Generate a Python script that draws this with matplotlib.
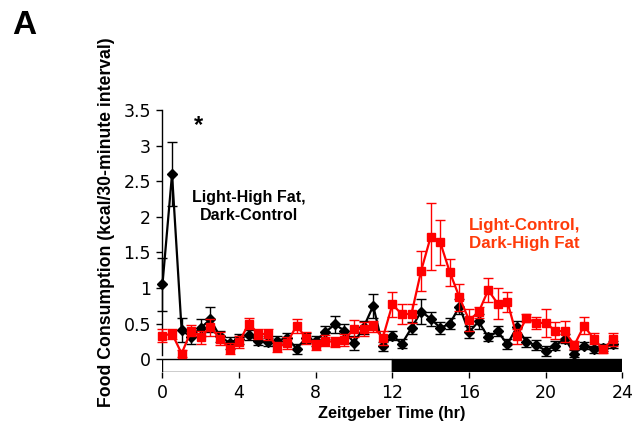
import matplotlib.pyplot as plt
from matplotlib.patches import Rectangle
import numpy as np

plt.rcParams['font.family'] = ['Liberation Sans', 'DejaVu Sans']

# Zeitgeber time, 30-minute bins
zt = np.arange(48) * 0.5

# Light-High Fat, Dark-Control (black diamonds)
lhf_mean = [1.05, 2.60, 0.41, 0.31, 0.44, 0.56, 0.32, 0.23, 0.29, 0.34,
            0.26, 0.24, 0.26, 0.30, 0.15, 0.30, 0.26, 0.38, 0.49, 0.40,
            0.23, 0.45, 0.75, 0.18, 0.33, 0.22, 0.44, 0.67, 0.57, 0.44,
            0.50, 0.74, 0.38, 0.53, 0.31, 0.39, 0.21, 0.45, 0.24, 0.20,
            0.12, 0.19, 0.29, 0.08, 0.19, 0.14, 0.16, 0.21]
lhf_sem = [0.37, 0.45, 0.17, 0.10, 0.12, 0.18, 0.08, 0.08, 0.07, 0.07,
           0.06, 0.06, 0.06, 0.07, 0.07, 0.07, 0.07, 0.09, 0.12, 0.10,
           0.10, 0.09, 0.17, 0.06, 0.06, 0.06, 0.08, 0.17, 0.10, 0.08,
           0.08, 0.10, 0.08, 0.10, 0.06, 0.07, 0.07, 0.09, 0.07, 0.07,
           0.07, 0.06, 0.06, 0.05, 0.05, 0.05, 0.05, 0.05]

# Light-Control, Dark-High Fat (red squares)
dhf_mean = [0.33, 0.36, 0.08, 0.40, 0.31, 0.45, 0.29, 0.15, 0.24, 0.50,
            0.36, 0.35, 0.17, 0.23, 0.47, 0.30, 0.20, 0.26, 0.24, 0.27,
            0.43, 0.42, 0.46, 0.30, 0.77, 0.63, 0.64, 1.24, 1.72, 1.64,
            1.22, 0.87, 0.55, 0.66, 0.97, 0.78, 0.81, 0.32, 0.58, 0.51,
            0.51, 0.40, 0.39, 0.20, 0.47, 0.29, 0.14, 0.28]
dhf_sem = [0.09, 0.07, 0.05, 0.08, 0.09, 0.12, 0.09, 0.08, 0.08, 0.08,
           0.07, 0.08, 0.07, 0.08, 0.10, 0.08, 0.07, 0.08, 0.07, 0.08,
           0.12, 0.10, 0.08, 0.10, 0.18, 0.14, 0.13, 0.28, 0.47, 0.31,
           0.19, 0.19, 0.16, 0.08, 0.17, 0.22, 0.14, 0.10, 0.06, 0.08,
           0.20, 0.12, 0.15, 0.05, 0.12, 0.08, 0.05, 0.09]

W, H = 636, 428
fig = plt.figure(figsize=(W / 100, H / 100), dpi=100)
ax = fig.add_axes([161.5 / W, (H - 371.7) / H, 460.8 / W, 261.7 / H])

ax.errorbar(zt, lhf_mean, yerr=lhf_sem, color='black', marker='D',
            markersize=5, linewidth=1.6, elinewidth=1, capsize=3.5,
            capthick=1, clip_on=False, zorder=3)
ax.errorbar(zt, dhf_mean, yerr=dhf_sem, color='#ff0000', marker='s',
            markersize=6, linewidth=1.6, elinewidth=1, capsize=3.5,
            capthick=1, clip_on=False, zorder=4)

# light / dark bar
ax.add_patch(Rectangle((0, -0.175), 12, 0.175, facecolor='white',
                       edgecolor='black', linewidth=1, zorder=2))
ax.add_patch(Rectangle((12, -0.175), 12, 0.175, facecolor='black',
                       edgecolor='black', linewidth=1, zorder=2))

ax.set_xlim(-0.05, 24.0)
ax.set_ylim(-0.175, 3.5)
ax.set_xticks(range(0, 25, 4))
ax.set_yticks([0, 0.5, 1, 1.5, 2, 2.5, 3, 3.5])
ax.set_yticklabels(['0', '0.5', '1', '1.5', '2', '2.5', '3', '3.5'])
for lab in ax.get_xticklabels() + ax.get_yticklabels():
    lab.set_family('DejaVu Sans')

for s in ['top', 'right', 'bottom']:
    ax.spines[s].set_visible(False)
ax.spines['left'].set_bounds(0.06, 3.5)
ax.spines['left'].set_linewidth(1)
ax.tick_params(axis='y', length=4, width=1, labelsize=12.5, pad=3.5)
ax.tick_params(axis='x', length=4, width=1, labelsize=12.5, pad=5)

ax.set_xlabel('Zeitgeber Time (hr)', fontsize=11.8, fontweight='bold',
              labelpad=3)
ax.set_ylabel('Food Consumption (kcal/30-minute interval)', fontsize=12.7,
              fontweight='bold')
ax.yaxis.set_label_coords(-0.1, 0.572)

ax.text(1.9, 3.28, '*', fontsize=17, fontweight='bold', ha='center',
        va='center')
ax.text(4.5, 2.15, 'Light-High Fat,\nDark-Control', fontsize=11.5,
        fontweight='bold', ha='center', va='center', linespacing=1.25)
ax.text(18.9, 1.75, 'Light-Control,\nDark-High Fat', fontsize=12.2,
        fontweight='bold', ha='center', va='center', color='#ff3b0a',
        linespacing=1.2)

fig.text(12 / W, 1 - 25 / H, 'A', fontsize=24, fontweight='bold',
         va='center', ha='left')

fig.savefig('out.png', dpi=100)
